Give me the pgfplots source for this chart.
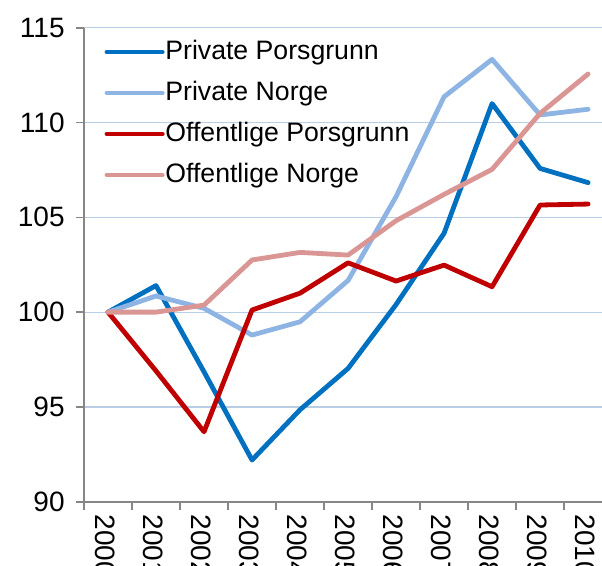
\documentclass[border=0pt]{standalone}
\usepackage{fontspec}
\setmainfont{Liberation Sans}
\usepackage{pgfplots}
\pgfplotsset{compat=1.18}

\definecolor{privpors}{HTML}{0070C0}
\definecolor{privnorge}{HTML}{8EB4E3}
\definecolor{offpors}{HTML}{C00000}
\definecolor{offnorge}{HTML}{D99694}
\definecolor{gridblue}{HTML}{B9CDE5}
\definecolor{axisgray}{HTML}{868686}

\begin{document}
\begin{tikzpicture}
\begin{axis}[
    name=ax,
    scale only axis,
    width=388.5pt, height=355.5pt,
    xmin=-0.5, xmax=10.29,
    ymin=90, ymax=115,
    axis x line*=bottom,
    axis y line*=left,
    axis line style={axisgray, line width=1.2pt},
    ytick={90,95,...,115},
    xtick={0,...,10},
    xticklabels={2000,2001,2002,2003,2004,2005,2006,2007,2008,2009,2010},
    minor xtick={-0.5,0.5,...,9.5},
    major x tick style={draw=none},
    minor x tick style={axisgray, line width=1.2pt},
    y tick style={axisgray, line width=1.2pt},
    tick align=outside,
    major tick length=6pt,
    minor tick length=6pt,
    ymajorgrids,
    grid style={gridblue, line width=0.9pt},
    ticklabel style={font=\fontsize{21}{24}\selectfont},
    /pgf/number format/assume math mode=true,
    yticklabel style={xshift=-5pt},
    xticklabel style={rotate=-90, anchor=west, yshift=-2pt},
    every axis plot/.append style={line width=3.6pt, line join=round, line cap=round},
    legend style={at={(0,1)}, anchor=north west, xshift=15.2pt, yshift=-8.5pt,
        draw=none, fill=none, inner sep=0pt, row sep=11.75pt,
        font=\fontsize{20}{23}\selectfont,
        nodes={inner xsep=0.5pt, inner ysep=0pt, text height=15pt, text depth=4pt}},
    legend cell align=left,
    legend image code/.code={%
        \draw[#1, line cap=round, overlay] (1.8pt,0pt) -- (40.2pt,0pt);
        \path (0pt,0pt) -- (41.5pt,0pt);},
]
% Private Porsgrunn
\addplot[privpors] coordinates {
(0,100) (1,101.4) (2,96.85) (3,92.2) (4,94.85) (5,97.03) (6,100.4)
(7,104.16) (8,111.0) (9,107.58) (10,106.83)};
\addlegendentry{Private Porsgrunn}
% Private Norge
\addplot[privnorge] coordinates {
(0,100) (1,100.85) (2,100.2) (3,98.79) (4,99.49) (5,101.67) (6,106.09)
(7,111.36) (8,113.33) (9,110.4) (10,110.7)};
\addlegendentry{Private Norge}
% Offentlige Porsgrunn
\addplot[offpors] coordinates {
(0,100) (1,96.9) (2,93.69) (3,100.11) (4,101.0) (5,102.6) (6,101.64)
(7,102.48) (8,101.34) (9,105.65) (10,105.7)};
\addlegendentry{Offentlige Porsgrunn}
% Offentlige Norge
\addplot[offnorge] coordinates {
(0,100) (1,100.0) (2,100.37) (3,102.75) (4,103.15) (5,103.01) (6,104.82)
(7,106.21) (8,107.53) (9,110.48) (10,112.56)};
\addlegendentry{Offentlige Norge}
\end{axis}
\pgfresetboundingbox
\path[use as bounding box] (ax.south west) ++(-63pt,-48.2pt) rectangle ++(451.5pt,424.5pt);
\end{tikzpicture}
\end{document}
